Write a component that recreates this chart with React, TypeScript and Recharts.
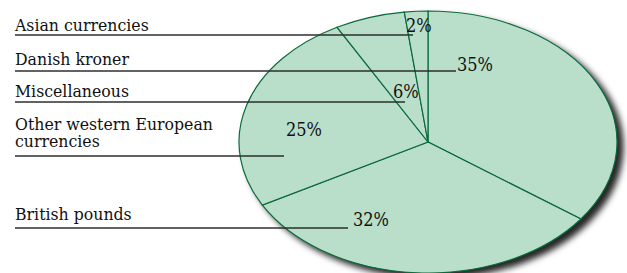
import { PieChart, Pie, Cell } from "recharts";

const categories = [
  "Danish kroner",
  "British pounds",
  "Other western European currencies",
  "Miscellaneous",
  "Asian currencies",
];
const shares = [35, 32, 25, 6, 2];

// where each label row sits (same order as categories)
const labelRows = [
  { nameY: [65], ruleY: 71, ruleEnd: 456, pctX: 457, pctY: 71 },
  { nameY: [220], ruleY: 228, ruleEnd: 348, pctX: 353, pctY: 226 },
  { nameY: [130, 147], ruleY: 156, ruleEnd: 284, pctX: 286, pctY: 136 },
  { nameY: [97], ruleY: 102, ruleEnd: 405, pctX: 393, pctY: 98 },
  { nameY: [31], ruleY: 35, ruleEnd: 413, pctX: 406, pctY: 32 },
];

const W = 627;
const H = 273;
const CX = 428;
const CY = 142;
const RX = 189;
const RY = 131;

const chartData = categories.map((name, i) => ({ name, value: shares[i] }));

const splitName = (name: string, lines: number) => {
  if (lines < 2) return [name];
  const cut = name.lastIndexOf(" ");
  return [name.slice(0, cut), name.slice(cut + 1)];
};

const nameStyle = { fontFamily: "DejaVu Serif", fontStretch: "condensed", fontSize: 17.5 };
const pctStyle = { fontFamily: "DejaVu Serif", fontStretch: "condensed", fontSize: 18 };

const renderLabel = (props: any) => {
  const row = labelRows[props.index];
  if (!row) return null;
  const parts = splitName(categories[props.index], row.nameY.length);
  return (
    <g>
      {parts.map((t, k) => (
        <text key={k} x={15} y={row.nameY[k]} style={nameStyle} fill="#111">
          {t}
        </text>
      ))}
      <line x1={15} y1={row.ruleY} x2={row.ruleEnd} y2={row.ruleY} stroke="#2e2e2e" strokeWidth={1.3} />
      <text x={row.pctX} y={row.pctY} style={pctStyle} fill="#111">
        {`${shares[props.index]}%`}
      </text>
    </g>
  );
};

const css = `
.recharts-pie-sector { transform-origin: ${CX}px ${CY}px; transform: scaleY(${RY / RX}); }
.recharts-pie-sector path { vector-effect: non-scaling-stroke; }
`;

const layer = { position: "absolute" as const, left: 0, top: 0, width: W, height: H };

const App = () => {
  return (
    <div style={{ ...layer, background: "#fff" }}>
      <style>{css}</style>
      {/* sectors only, with the drop shadow */}
      <div style={{ ...layer, filter: "drop-shadow(6px 5px 3px rgba(0,0,0,0.85))" }}>
        <PieChart width={W} height={H} margin={{ top: 0, right: 0, bottom: 0, left: 0 }}>
          <Pie
            data={chartData}
            dataKey="value"
            nameKey="name"
            cx={CX}
            cy={CY}
            outerRadius={RX}
            startAngle={90}
            endAngle={-270}
            stroke="#0b6b3c"
            strokeWidth={1.2}
            isAnimationActive={false}
          >
            {chartData.map((d) => (
              <Cell key={d.name} fill="#b9dfcb" />
            ))}
          </Pie>
        </PieChart>
      </div>
      {/* labels and rules on top */}
      <div style={layer}>
        <PieChart width={W} height={H} margin={{ top: 0, right: 0, bottom: 0, left: 0 }}>
          <Pie
            data={chartData}
            dataKey="value"
            nameKey="name"
            cx={CX}
            cy={CY}
            outerRadius={RX}
            startAngle={90}
            endAngle={-270}
            fill="none"
            stroke="none"
            label={renderLabel}
            labelLine={false}
            isAnimationActive={false}
          />
        </PieChart>
      </div>
    </div>
  );
};

export default App;
